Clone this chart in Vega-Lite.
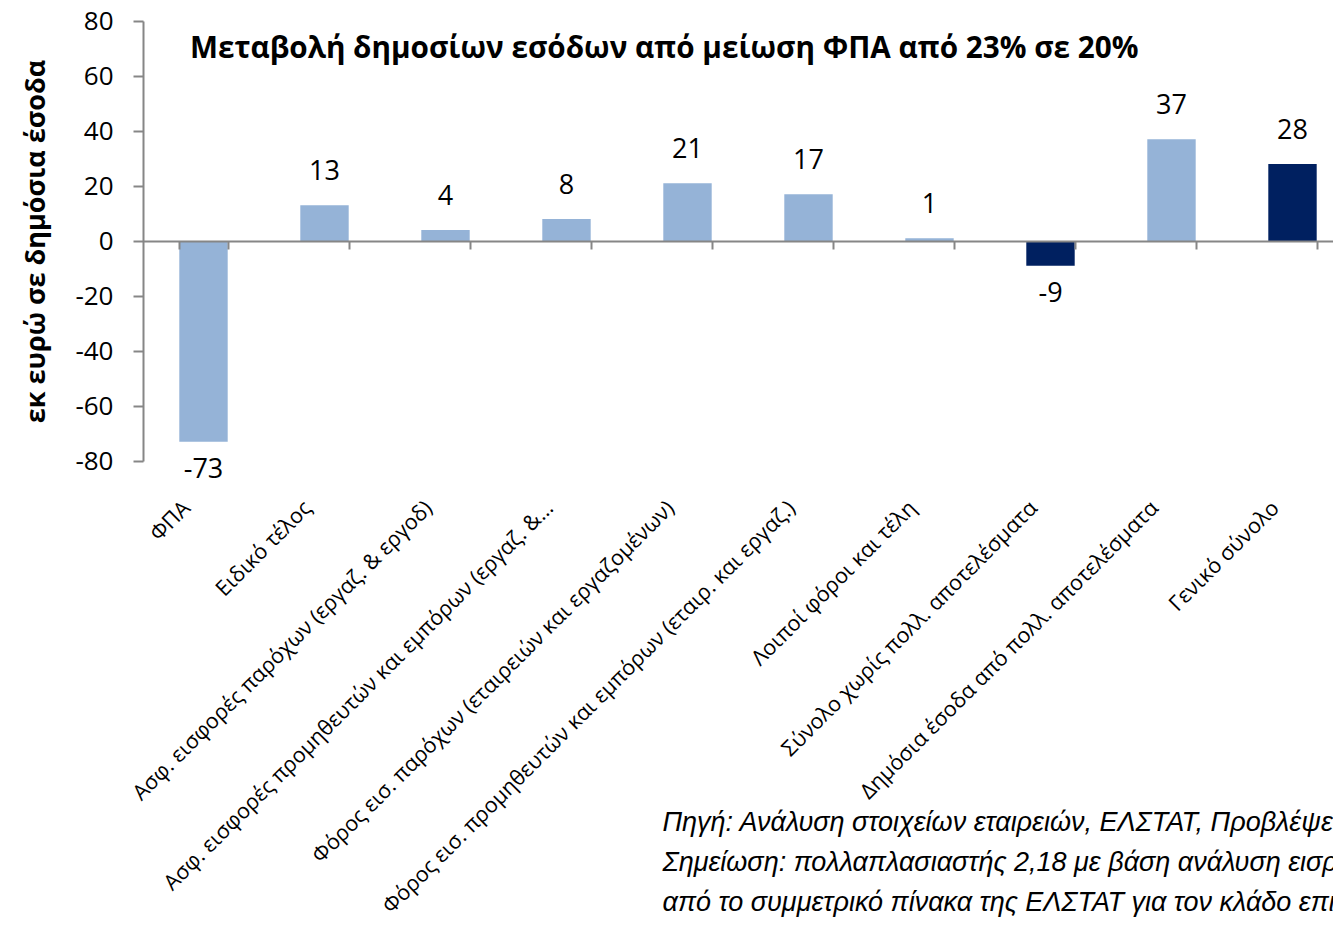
{
  "$schema": "https://vega.github.io/schema/vega-lite/v6.json",
  "autosize": {"type": "none"},
  "width": 1210,
  "height": 440,
  "padding": {"left": 143, "top": 21, "right": -20, "bottom": 469},
  "background": "white",
  "config": {"view": {"stroke": null}, "font": "Open Sans"},
  "title": {
    "text": "Μεταβολή δημοσίων εσόδων από μείωση ΦΠΑ από 23% σε 20%",
    "anchor": "start",
    "frame": "group",
    "dx": 47,
    "offset": -57,
    "font": "Open Sans",
    "fontSize": 29.7,
    "fontWeight": "bold",
    "color": "black"
  },
  "datasets": {
    "bars": [
      {"cat": "ΦΠΑ", "value": -73, "kind": "συνιστώσα"},
      {"cat": "Ειδικό τέλος", "value": 13, "kind": "συνιστώσα"},
      {"cat": "Ασφ. εισφορές παρόχων (εργαζ. & εργοδ)", "value": 4, "kind": "συνιστώσα"},
      {"cat": "Ασφ. εισφορές προμηθευτών και εμπόρων (εργαζ. &…", "value": 8, "kind": "συνιστώσα"},
      {"cat": "Φόρος εισ. παρόχων (εταιρειών και εργαζομένων)", "value": 21, "kind": "συνιστώσα"},
      {"cat": "Φόρος εισ. προμηθευτών και εμπόρων (εταιρ. και εργαζ.)", "value": 17, "kind": "συνιστώσα"},
      {"cat": "Λοιποί φόροι και τέλη", "value": 1, "kind": "συνιστώσα"},
      {"cat": "Σύνολο χωρίς πολλ. αποτελέσματα", "value": -9, "kind": "σύνολο"},
      {"cat": "Δημόσια έσοδα από πολλ. αποτελέσματα", "value": 37, "kind": "συνιστώσα"},
      {"cat": "Γενικό σύνολο", "value": 28, "kind": "σύνολο"}
    ],
    "notes": [
      {"note": "Πηγή: Ανάλυση στοιχείων εταιρειών, ΕΛΣΤΑΤ, Προβλέψεις\nΣημείωση: πολλαπλασιαστής 2,18 με βάση ανάλυση εισροών-εκροών\nαπό το συμμετρικό πίνακα της ΕΛΣΤΑΤ για τον κλάδο επικοινωνιών"}
    ]
  },
  "layer": [
    {
      "data": {"name": "bars"},
      "mark": {"type": "bar"},
      "encoding": {
        "x": {
          "field": "cat",
          "type": "nominal",
          "sort": null,
          "scale": {
            "domain": ["ΦΠΑ", "Ειδικό τέλος", "Ασφ. εισφορές παρόχων (εργαζ. & εργοδ)", "Ασφ. εισφορές προμηθευτών και εμπόρων (εργαζ. &…", "Φόρος εισ. παρόχων (εταιρειών και εργαζομένων)", "Φόρος εισ. προμηθευτών και εμπόρων (εταιρ. και εργαζ.)", "Λοιποί φόροι και τέλη", "Σύνολο χωρίς πολλ. αποτελέσματα", "Δημόσια έσοδα από πολλ. αποτελέσματα", "Γενικό σύνολο"],
            "paddingInner": 0.6,
            "paddingOuter": 0.3
          },
          "axis": {
            "orient": "bottom",
            "title": null,
            "domain": false,
            "ticks": false,
            "tickSize": 0,
            "labelAngle": -45,
            "labelAlign": "right",
            "labelBaseline": "top",
            "labelPadding": 36,
            "labelOffset": -24,
            "labelFontSize": 21.5,
            "labelColor": "black",
            "labelLimit": 0,
            "labelOverlap": false
          }
        },
        "y": {
          "field": "value",
          "type": "quantitative",
          "scale": {"domain": [-80, 80], "nice": false},
          "axis": {
            "title": "εκ ευρώ σε δημόσια έσοδα",
            "titleFontSize": 27,
            "titleFontWeight": "bold",
            "titleColor": "black",
            "titlePadding": 24,
            "values": [-80, -60, -40, -20, 0, 20, 40, 60, 80],
            "labelExpr": "'' + datum.value",
            "grid": false,
            "domainColor": "#868686",
            "tickColor": "#868686",
            "domainWidth": 2,
            "tickWidth": 2,
            "tickSize": 10,
            "labelPadding": 20,
            "labelFontSize": 26,
            "labelColor": "black"
          }
        },
        "color": {
          "field": "kind",
          "type": "nominal",
          "scale": {"domain": ["συνιστώσα", "σύνολο"], "range": ["#95B3D7", "#002060"]},
          "legend": null
        }
      }
    },
    {
      "data": {"name": "bars"},
      "transform": [{"filter": "datum.value >= 0"}],
      "mark": {"type": "text", "dy": -33, "fontSize": 27, "color": "black", "baseline": "middle"},
      "encoding": {
        "x": {
          "field": "cat",
          "type": "nominal",
          "sort": null,
          "axis": {
            "orient": "bottom",
            "offset": -220,
            "title": null,
            "labels": false,
            "domain": true,
            "ticks": true,
            "tickBand": "extent",
            "tickSize": 8,
            "domainColor": "#868686",
            "tickColor": "#868686",
            "domainWidth": 2,
            "tickWidth": 2,
            "zindex": 1
          }
        },
        "y": {"field": "value", "type": "quantitative"},
        "text": {"field": "value", "type": "nominal"}
      }
    },
    {
      "data": {"name": "bars"},
      "transform": [{"filter": "datum.value < 0"}],
      "mark": {"type": "text", "dy": 28, "fontSize": 27, "color": "black", "baseline": "middle"},
      "encoding": {
        "x": {"field": "cat", "type": "nominal", "sort": null, "axis": null},
        "y": {"field": "value", "type": "quantitative"},
        "text": {"field": "value", "type": "nominal"}
      }
    },
    {
      "data": {"name": "notes"},
      "mark": {
        "type": "text",
        "align": "left",
        "baseline": "alphabetic",
        "lineBreak": "\n",
        "lineHeight": 40,
        "font": "Liberation Sans",
        "fontStyle": "italic",
        "fontSize": 27,
        "color": "black",
        "dx": -25,
        "dy": 370
      },
      "encoding": {
        "x": {"datum": "Φόρος εισ. παρόχων (εταιρειών και εργαζομένων)", "type": "nominal", "axis": null},
        "y": {"datum": -80, "type": "quantitative"},
        "text": {"field": "note", "type": "nominal"}
      }
    }
  ],
  "resolve": {"axis": {"x": "independent"}}
}
